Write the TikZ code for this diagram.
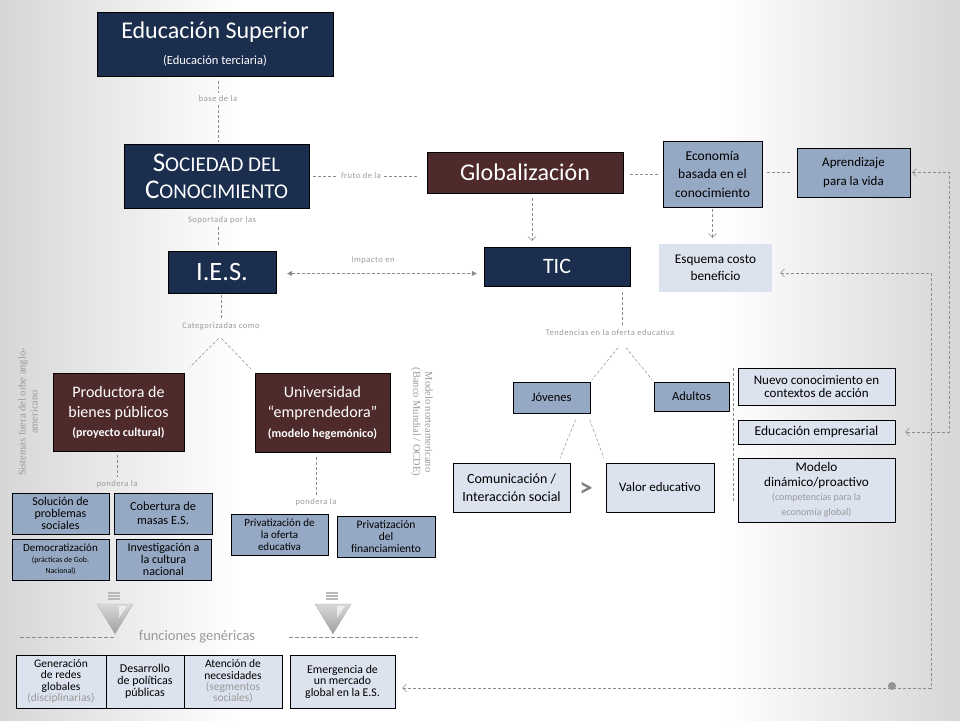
\documentclass[tikz,border=0pt]{standalone}
\usepackage{fontspec}
\setmainfont{Carlito}
\newfontfamily\sideserif{Liberation Serif}
\usetikzlibrary{arrows.meta}
\definecolor{navyfill}{HTML}{1B2E4E}
\definecolor{brownfill}{HTML}{4E2A2B}
\definecolor{steelfill}{HTML}{96A9C4}
\definecolor{palefill}{HTML}{DCE2EE}
\definecolor{linegray}{HTML}{8C8C8C}
\definecolor{lblgray}{HTML}{9A9A9A}
\newcommand\fsz[2]{\fontsize{#1}{#2}\selectfont}
\begin{document}
\begin{tikzpicture}[x=1pt, y=-1pt,
  navybox/.style={draw=black, fill=navyfill, text=white, align=center, inner sep=0pt},
  brownbox/.style={draw=black, fill=brownfill, text=white, align=center, inner sep=0pt},
  steelbox/.style={draw=black, fill=steelfill, align=center, inner sep=0pt},
  palebox/.style={draw=black, fill=palefill, align=center, inner sep=0pt},
  conn/.style={draw=linegray, dash pattern=on 3pt off 2pt, line width=0.5pt},
  lbl/.style={text=lblgray, font=\fsz{8.5}{10}\addfontfeature{LetterSpace=6}, inner sep=3pt},
  barb/.style={-{Straight Barb[length=4pt,width=8pt]}},
  dimtext/.style={text=lblgray}]
\useasboundingbox (0,0) rectangle (960,720);
\shade[left color=gray!32, right color=white] (0,0) rectangle (240,720);
\shade[left color=white, right color=gray!32] (720,0) rectangle (960,720);

\node[navybox, minimum width=236pt, minimum height=64pt, font=\fsz{24}{26}] (edsup) at (215,44)
  {Educación Superior\\{\fsz{12.5}{14}(Educación terciaria)}};
\node[navybox, minimum width=185pt, minimum height=64pt, font=\fsz{27}{27}] (soc) at (216.5,176)
  {S{\fsz{21}{27}OCIEDAD DEL}\\C{\fsz{21}{27}ONOCIMIENTO}};
\node[brownbox, minimum width=196pt, minimum height=41pt, font=\fsz{24}{26}] (glob) at (525,172.5) {Globalización};
\node[steelbox, minimum width=99pt, minimum height=66pt, font=\fsz{13.5}{18.5}] (eco) at (712.5,174)
  {Economía\\basada en el\\conocimiento};
\node[steelbox, minimum width=113pt, minimum height=49pt, font=\fsz{13}{19}] (apr) at (853.5,172.5)
  {Aprendizaje\\para la vida};
\node[palebox, draw=none, minimum width=113pt, minimum height=48pt, font=\fsz{13.3}{17}] (esq) at (715.5,268)
  {Esquema costo\\beneficio};
\node[navybox, minimum width=108pt, minimum height=42pt, font=\fsz{26.5}{28}] (ies) at (222,272) {I.E.S.};
\node[navybox, minimum width=146pt, minimum height=39pt, font=\fsz{22}{24}] (tic) at (557,266.5) {TIC};

\node[brownbox, minimum width=131pt, minimum height=78pt, font=\fsz{16}{20.5}] (prod) at (118.5,412)
  {Productora de\\bienes públicos\\[-2pt]{\fsz{12}{13}\bfseries(proyecto cultural)}};
\node[brownbox, minimum width=135pt, minimum height=79pt, font=\fsz{16}{20.5}] (univ) at (322.5,412.5)
  {Universidad\\“emprendedora”\\[-1pt]{\fsz{12}{13}\bfseries(modelo hegemónico)}};
\node[steelbox, minimum width=97pt, minimum height=41pt, font=\fsz{12}{12}] (sol) at (60.5,513.5)
  {Solución de\\problemas\\sociales};
\node[steelbox, minimum width=98pt, minimum height=41pt, font=\fsz{12.3}{14}] (cob) at (163,513.5)
  {Cobertura de\\masas E.S.};
\node[steelbox, minimum width=97pt, minimum height=41pt, font=\fsz{11}{11}] (dem) at (60.5,559.5)
  {Democratización\\{\fsz{7.8}{10}(prácticas de Gob.}\\{\fsz{7.8}{10}Nacional)}};
\node[steelbox, minimum width=95pt, minimum height=41pt, font=\fsz{12}{12}] (inv) at (163.5,559.5)
  {Investigación a\\la cultura\\nacional};
\node[steelbox, minimum width=97pt, minimum height=41pt, font=\fsz{11}{12}] (privof) at (279.5,534.5)
  {Privatización de\\la oferta\\educativa};
\node[steelbox, minimum width=98pt, minimum height=41pt, font=\fsz{11.5}{12}] (privfin) at (386,536.5)
  {Privatización\\del\\financiamiento};

\node[steelbox, minimum width=77pt, minimum height=31pt, font=\fsz{12.5}{14}] (jov) at (551.5,397.5) {Jóvenes};
\node[steelbox, minimum width=75pt, minimum height=29pt, font=\fsz{12.5}{14}] (adu) at (691.5,396.5) {Adultos};
\node[palebox, minimum width=117pt, minimum height=49pt, font=\fsz{14}{18}] (com) at (511.5,487.5)
  {Comunicación /\\Interacción social};
\node[palebox, minimum width=108pt, minimum height=49pt, font=\fsz{13}{15}] (val) at (660,487.5) {Valor educativo};
\node[text=gray, font=\fsz{26}{28}\bfseries, inner sep=0pt] (gt) at (586,489) {>};
\node[palebox, minimum width=157pt, minimum height=37pt, font=\fsz{13}{13.5}] (nue) at (816.5,386.5)
  {Nuevo conocimiento en\\contextos de acción};
\node[palebox, minimum width=157pt, minimum height=24pt, font=\fsz{13.5}{14}] (empr) at (816.5,432) {Educación empresarial};
\node[palebox, minimum width=157pt, minimum height=64pt, font=\fsz{13.2}{14.5}] (mod) at (816.5,490)
  {Modelo\\dinámico/proactivo\\{\fsz{10}{14.5}\color{lblgray}(competencias para la}\\{\fsz{10}{14.5}\color{lblgray}economía global)}};

\node[palebox, minimum width=90pt, minimum height=53pt, font=\fsz{11.5}{11.3}] (gen) at (61,681.5)
  {Generación\\de redes\\globales\\{\color{lblgray}(disciplinarias)}};
\node[palebox, minimum width=78pt, minimum height=53pt, font=\fsz{12}{12}] (des) at (145,681.5)
  {Desarrollo\\de políticas\\públicas};
\node[palebox, minimum width=98pt, minimum height=53pt, font=\fsz{11.5}{11.3}] (ate) at (233,681.5)
  {Atención de\\necesidades\\{\color{lblgray}(segmentos}\\{\color{lblgray}sociales)}};
\node[palebox, minimum width=105pt, minimum height=53pt, font=\fsz{11.8}{11.5}] (eme) at (342.5,681.5)
  {Emergencia de\\un mercado\\global en la E.S.};

\node[rotate=90, align=center, dimtext, font=\sideserif\fsz{10.5}{12}] (sist) at (28,412)
  {Sistemas fuera del orbe anglo-\\americano};
\node[rotate=-90, align=center, dimtext, font=\sideserif\fsz{10.5}{12}] (norte) at (422,422)
  {Modelo norteamericano\\(Banco Mundial / OCDE)};
\node[dimtext, font=\fsz{14.5}{16}] (lfun) at (197,637) {funciones genéricas};

\node[lbl] (lbase) at (218,99) {base de la};
\node[lbl] (lfruto) at (361,176) {fruto de la};
\node[lbl] (lsop) at (222,220) {Soportada por las};
\node[lbl] (limp) at (373,260) {Impacto en};
\node[lbl] (lcat) at (221,326) {Categorizadas como};
\node[lbl] (lten) at (610,333) {Tendencias en la oferta educativa};
\node[lbl] (lpon) at (117,484) {pondera la};
\node[lbl] (lponb) at (316,502) {pondera la};

\coordinate (capex) at (220,337);
\coordinate (tapex) at (622,343);
\coordinate (septop) at (733,368);
\coordinate (sepbot) at (733,503);
\coordinate (railA) at (949,0);
\coordinate (railB) at (931,688);
\coordinate (funL) at (20,637);
\coordinate (funR) at (418,637);

\begin{scope}[conn]
\draw[shorten <=5pt] (lbase |- edsup.south) -- (lbase);
\draw[shorten >=2pt] (lbase) -- (lbase |- soc.north);
\draw[shorten <=4pt] (soc.east |- lfruto) -- (lfruto);
\draw[shorten >=8pt] (lfruto) -- (lfruto -| glob.west);
\draw[shorten >=4pt] ([xshift=-4pt]lsop.south) -- ([xshift=-4pt]lsop.south |- ies.north);
\draw[shorten <=2pt] (lcat |- ies.south) -- (lcat);
\draw[shorten <=2pt, shorten >=8pt] (capex) -- (prod.north east);
\draw[shorten <=2pt, shorten >=4pt] (capex) -- (univ.north west);
\draw[shorten <=4pt] (lpon |- prod.south) -- (lpon);
\draw[shorten <=5pt] (lponb |- univ.south) -- (lponb);
\draw[shorten <=6pt] (tapex |- tic.south) -- (tapex |- lten.north);
\draw[shorten <=6pt, shorten >=3pt] (tapex) -- (jov.north east);
\draw[shorten <=6pt, shorten >=3pt] (tapex) -- (adu.north west);
\draw[shorten <=7pt, shorten >=5pt] ([xshift=-12pt]jov.south east) -- ([xshift=-12pt]com.north east);
\draw[shorten <=7pt, shorten >=5pt] ([xshift=-3pt]jov.south east) -- (val.north west);
\draw (septop) -- (sepbot);
\draw[shorten <=7pt, shorten >=5pt] (glob.east |- eco.west) -- (eco.west);
\draw[shorten <=5pt, shorten >=7pt] (eco.east |- apr.west) -- (apr.west);
\draw[barb, shorten <=5pt, shorten >=6pt] ([xshift=7pt]glob.south) -- ([xshift=7pt]glob.south |- tic.north);
\draw[barb, shorten <=2pt, shorten >=6pt] (eco.south) -- (eco.south |- esq.north);
\draw[{Triangle[length=5pt,width=5pt]}-{Triangle[length=5pt,width=5pt]}, fill=linegray, shorten <=11pt, shorten >=7pt]
  ([yshift=-1.5pt]ies.east) -- ([yshift=-1.5pt]ies.east -| tic.west);
\draw[{Straight Barb[length=4pt,width=8pt]}-{Straight Barb[length=4pt,width=8pt]}]
  ([xshift=2pt]apr.east) -- (apr.east -| railA) |- ([xshift=10pt]empr.east);
\draw[{Straight Barb[length=4pt,width=8pt]}-{Straight Barb[length=4pt,width=8pt]}]
  ([xshift=8pt,yshift=-5pt]esq.east) -- ([yshift=-5pt]esq.east -| railB) -- (railB) -- ([xshift=7pt]railB -| eme.east);
\draw[dash pattern=on 4pt off 2pt] (funL) -- ([xshift=-20pt]lfun.west);
\draw[dash pattern=on 4pt off 2pt] ([xshift=30pt]lfun.east) -- (funR);
\end{scope}
\fill[gray!85] (892,686) circle (4pt);

\foreach \cx in {115,333}{
  \foreach \by in {592,595,598}
    \fill[gray!55] (\cx-7,\by) rectangle (\cx+5,\by+1.5);
  \shade[top color=gray!30, bottom color=gray!75, draw=gray!60] (\cx-18,604) -- (\cx+18,604) -- (\cx,634) -- cycle;
  \fill[white, opacity=0.6] (\cx+4,606) -- (\cx+12,606) -- (\cx+4,618) -- cycle;
}
\end{tikzpicture}
\end{document}
